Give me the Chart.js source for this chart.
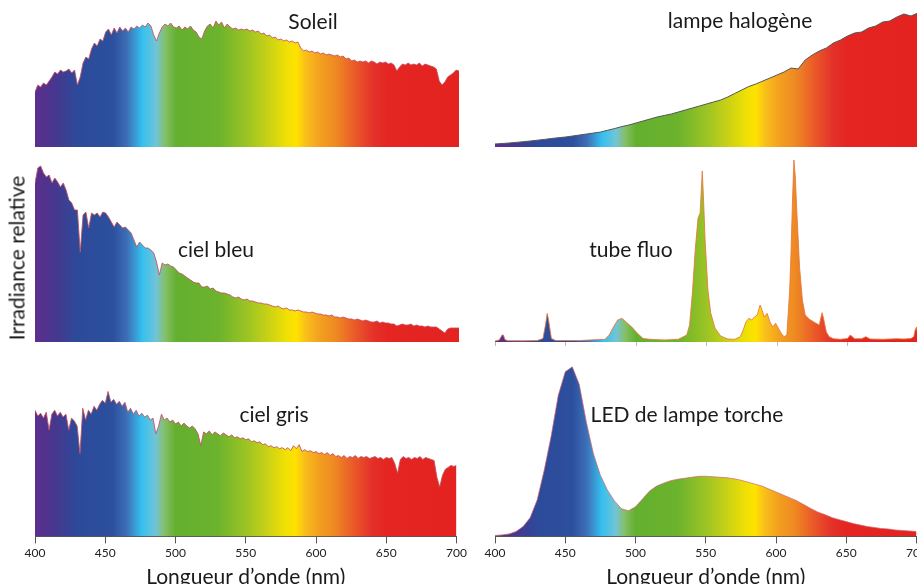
<!DOCTYPE html>
<html lang="fr">
<head>
<meta charset="utf-8">
<script src="https://cdn.jsdelivr.net/npm/chart.js@4.4.1/dist/chart.umd.min.js"></script>
<style>
  html, body { margin: 0; padding: 0; background: #fff; overflow: hidden; }
  body { width: 917px; height: 584px; position: relative; font-family: Lato, sans-serif; color: #1a1a1a; }
  canvas { position: absolute; }
  .lbl { position: absolute; font-size: 21px; transform: translate(-50%, -50%); white-space: nowrap; }
  #ylab { position: absolute; left: 16px; top: 258px; font-size: 21px; transform: translate(-50%, -50%) rotate(-90deg); white-space: nowrap; }
</style>
</head>
<body>
<canvas id="soleil" width="470" height="136" style="left:0;top:11px"></canvas>
<canvas id="halogene" width="460" height="136" style="left:470px;top:11px"></canvas>
<canvas id="bleu" width="470" height="182" style="left:0;top:160px"></canvas>
<canvas id="fluo" width="460" height="186" style="left:470px;top:160px"></canvas>
<canvas id="gris" width="470" height="235" style="left:0;top:355px"></canvas>
<canvas id="led" width="460" height="235" style="left:470px;top:355px"></canvas>

<div class="lbl" style="left:313px;top:20px">Soleil</div>
<div class="lbl" style="left:740px;top:19px">lampe halogène</div>
<div class="lbl" style="left:216px;top:248px">ciel bleu</div>
<div class="lbl" style="left:631px;top:248px">tube fluo</div>
<div class="lbl" style="left:274px;top:413px">ciel gris</div>
<div class="lbl" style="left:687px;top:413px">LED de lampe torche</div>
<div id="ylab">Irradiance relative</div>

<script>
// wavelength grids (nm)
const wl2 = Array.from({ length: 151 }, (_, i) => 400 + 2 * i);
const wl5 = Array.from({ length: 61 }, (_, i) => 400 + 5 * i);
const xTicks = [400, 450, 500, 550, 600, 650, 700];

// relative irradiance
const soleil = [
  55, 62, 60, 64, 62, 66, 70, 75, 73, 77,
  75, 76, 78, 74, 77, 62, 70, 84, 90, 88,
  98, 104, 101, 108, 106, 115, 118, 112, 119, 114,
  120, 116, 119, 115, 120, 118, 121, 119, 122, 120,
  124, 121, 112, 106, 114, 120, 123, 121, 124, 120,
  119, 121, 117, 120, 118, 121, 117, 115, 110, 108,
  116, 121, 123, 119, 126, 122, 125, 119, 123, 120,
  118, 119, 117, 118, 117, 118, 116, 117, 115, 116,
  113, 114, 111, 112, 109, 110, 107, 108, 106, 107,
  105, 106, 104, 105, 99, 96, 97, 95, 96, 94,
  95, 93, 94, 92, 93, 92, 91, 92, 90, 91,
  88, 89, 86, 87, 85, 86, 85, 86, 84, 86,
  85, 83, 85, 84, 85, 83, 84, 82, 76, 80,
  83, 82, 84, 82, 83, 82, 84, 81, 83, 82,
  81, 80, 78, 66, 62, 65, 70, 72, 74, 77,
  76
];

const cielBleu = [
  159, 174, 176, 169, 165, 167, 159, 164, 160, 155,
  159, 152, 142, 139, 132, 132, 90, 127, 130, 114,
  129, 127, 129, 125, 130, 129, 125, 120, 115, 120,
  117, 114, 115, 112, 109, 102, 95, 100, 97, 94,
  94, 92, 89, 80, 67, 79, 77, 78, 76, 75,
  72, 69, 68, 66, 64, 62, 60, 59, 59, 55,
  55, 56, 53, 54, 51, 50, 49, 49, 48, 47,
  45, 44, 45, 43, 42, 43, 41, 41, 40, 39,
  39, 38, 38, 37, 36, 35, 36, 34, 33, 34,
  32, 32, 31, 32, 31, 30, 30, 29, 30, 29,
  28, 28, 27, 27, 26, 27, 25, 25, 24, 25,
  24, 23, 23, 22, 23, 22, 21, 22, 21, 20,
  20, 21, 19, 20, 19, 19, 18, 18, 16, 17,
  18, 17, 17, 18, 16, 17, 16, 16, 15, 16,
  15, 15, 15, 13, 11, 9, 13, 14, 14, 14,
  14
];

const cielGris = [
  128, 122, 125, 120, 126, 108, 124, 128, 122, 126,
  121, 124, 108, 120, 117, 112, 84, 130, 118, 128,
  124, 132, 128, 134, 138, 135, 147, 136, 139, 134,
  137, 132, 136, 126, 130, 124, 128, 122, 125, 121,
  123, 118, 120, 104, 112, 124, 118, 120, 116, 118,
  114, 116, 112, 115, 112, 110, 112, 109, 104, 92,
  106, 104, 107, 103, 106, 104, 102, 105, 103, 101,
  103, 100, 101, 99, 100, 98, 99, 96, 97, 95,
  96, 93, 94, 91, 92, 90, 91, 89, 90, 88,
  90, 87, 92, 89, 93, 86, 88, 86, 87, 85,
  86, 84, 85, 83, 85, 82, 84, 81, 82, 80,
  82, 79, 81, 80, 82, 79, 81, 80, 81, 79,
  80, 81, 79, 80, 78, 80, 79, 80, 74, 64,
  78, 81, 79, 80, 78, 80, 79, 81, 78, 80,
  79, 78, 77, 60, 50, 62, 68, 70, 72, 71,
  72
];

const halogene = [
  3, 3.5, 4, 4.6, 5.3, 6, 6.8, 7.6, 8.5, 9.3,
  10, 11, 12, 13, 14, 15, 16.8, 18.5, 20.5, 22,
  24, 26, 28, 30, 31.5, 33, 35, 37, 39, 41,
  43, 45, 47, 50, 53.5, 57, 60.5, 63, 66, 69,
  72, 75, 79, 78, 87, 92, 96, 99, 104, 107,
  111, 114, 115, 119, 121, 125, 126, 130, 133, 131,
  134
];

const led = [
  1, 1.5, 2.5, 5, 10, 19, 37, 67, 102, 143,
  167, 172, 154, 116, 84, 62, 47, 36, 28, 26,
  30, 38, 46, 51, 54, 56.5, 58, 59, 60, 61,
  61, 60.5, 60, 59.5, 58.5, 57, 55, 53, 51, 48,
  45, 42, 39, 36, 32, 28, 24.5, 22, 19, 17,
  15, 13, 11.5, 10, 9, 8, 7.5, 6.5, 6, 5.5,
  5
];

const fluoNm = [
  400, 403, 405, 406, 407, 409, 420, 430, 434, 436, 437, 438, 440, 443,
  460, 478, 481, 484, 487, 490, 493, 497, 501, 505, 510, 520, 530, 536,
  538, 540, 542, 544, 545.5, 547, 548, 549, 551, 553, 556, 560, 565, 570,
  574, 576, 578, 580, 582, 584, 586, 588, 589, 591, 593, 595, 597, 599,
  601, 603, 605, 607, 609, 610, 611, 612, 613, 614, 616, 618, 620, 623,
  627, 630, 631, 632, 633, 635, 637, 640, 645, 650, 652, 655, 660, 663,
  666, 675, 685, 690, 695, 697, 698, 699, 700
];
const fluo = [
  1, 2, 7, 7, 2.5, 1.3, 1.2, 1.5, 3.5, 18.7, 28.7, 22, 3.5, 1.5,
  1.5, 2.7, 7, 15, 22, 23.7, 20, 15, 8.7, 3.5, 2.7, 2, 2.7, 7,
  17, 49, 92, 124, 129, 171, 139, 102, 52, 29, 14, 6, 3, 2.7,
  5.3, 12, 20, 23.7, 22, 25, 27, 37, 33.7, 25, 28.7, 20, 15, 18.7,
  13.7, 8.7, 5.3, 7, 52, 92, 142, 182, 165, 132, 75, 42, 27, 22.7,
  19.3, 17, 23.7, 29.3, 23.7, 10, 5.3, 3.3, 2.7, 3.5, 7, 3.3, 3.3, 5.3,
  3, 2.7, 3.3, 3, 3.5, 5.3, 12, 15, 5.3
];

// spectrum colours
const stopNm = [400, 415, 430, 455, 465, 476, 486, 492, 500, 530, 550, 565, 578, 585, 592, 602, 613, 626, 640, 650, 700];
const stopColors = ['#5d2e8d', '#45388f', '#2d4a9a', '#2c4f9e', '#3d6eb5', '#35c0ef', '#72c4d6', '#86bf6a', '#63b02f',
  '#6cb32d', '#9bc424', '#c8d116', '#efe004', '#ffe200', '#f8be1b', '#f39f1f', '#ee8922', '#ea5b28', '#e4302a', '#e42521', '#e42320'];

Chart.defaults.font.family = 'Lato, sans-serif';
Chart.defaults.color = '#222';

function rainbow(ctx) {
  const chart = ctx.chart;
  const area = chart.chartArea;
  if (!area) return null;
  const xs = chart.scales.x;
  const g = chart.ctx.createLinearGradient(area.left, 0, area.right, 0);
  stopNm.forEach((nm, i) => {
    let t = (xs.getPixelForValue(nm) - area.left) / (area.right - area.left);
    t = Math.min(1, Math.max(0, t));
    g.addColorStop(t, stopColors[i]);
  });
  return g;
}

function spectrum(id, nm, vals, ymax, opts) {
  const right = id === 'halogene' || id === 'fluo' || id === 'led';
  let xScale = { type: 'linear', min: 400, max: 700, display: false };
  if (opts.axis === 'full') {
    xScale = {
      type: 'linear', min: 400, max: 700,
      afterBuildTicks: s => { s.ticks = xTicks.map(v => ({ value: v })); },
      border: { display: true, color: '#555', width: 1 },
      grid: { drawOnChartArea: false, drawTicks: true, tickLength: 7, color: '#555' },
      ticks: { padding: 3, maxRotation: 0, font: { size: 12 }, color: '#222' },
      title: { display: true, text: 'Longueur d\u2019onde (nm)', font: { size: 21 }, color: '#1a1a1a', padding: { top: 1, bottom: 0 } }
    };
  } else if (opts.axis === 'marks') {
    xScale = {
      type: 'linear', min: 400, max: 700,
      afterBuildTicks: s => { s.ticks = xTicks.map(v => ({ value: v })); },
      border: { display: false },
      grid: { drawOnChartArea: false, drawTicks: true, tickLength: 4, color: '#bbb' },
      ticks: { display: false }
    };
  }
  new Chart(document.getElementById(id), {
    type: 'line',
    data: {
      datasets: [{
        data: nm.map((x, i) => ({ x: x, y: vals[i] })),
        fill: 'origin',
        backgroundColor: rainbow,
        borderColor: opts.line,
        borderWidth: 1,
        pointRadius: 0,
        tension: 0
      }]
    },
    options: {
      responsive: false,
      animation: false,
      events: [],
      layout: { padding: right ? { left: 25, right: 12 } : { left: 35, right: 11 } },
      plugins: { legend: { display: false }, tooltip: { enabled: false } },
      scales: {
        x: xScale,
        y: { display: false, min: 0, max: ymax }
      }
    }
  });
}

const skyLine = 'rgba(195, 80, 95, 0.85)';
spectrum('soleil', wl2, soleil, 136, { line: skyLine });
spectrum('halogene', wl5, halogene, 136, { line: '#555' });
spectrum('bleu', wl2, cielBleu, 182, { line: skyLine });
spectrum('fluo', fluoNm, fluo, 182, { line: 'rgba(230, 120, 60, 0.85)', axis: 'marks' });
spectrum('gris', wl2, cielGris, 184, { line: skyLine, axis: 'full' });
spectrum('led', wl5, led, 184, { line: 'rgba(210, 100, 110, 0.7)', axis: 'full' });
</script>
</body>
</html>
